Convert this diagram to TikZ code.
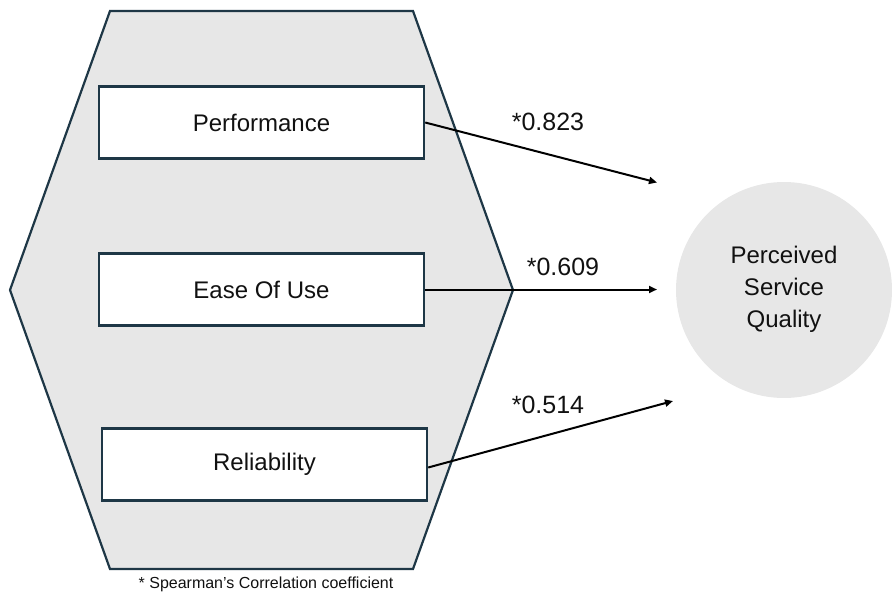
\documentclass[tikz,border=0pt]{standalone}
\usepackage{fontspec}
\setmainfont{Liberation Sans}
\usetikzlibrary{arrows.meta}
\definecolor{edgecol}{HTML}{1E3746}
\definecolor{fillgray}{HTML}{E7E7E7}
\definecolor{txt}{HTML}{111111}
\tikzset{
  factorbox/.style={draw=edgecol, line width=2.4pt, fill=white, minimum width=325pt, minimum height=72pt, inner sep=0pt, text=txt, font=\fontsize{24}{29}\selectfont},
  corrlabel/.style={text=txt, inner sep=0pt, font=\fontsize{25}{30}\selectfont},
  link/.style={draw=black, line width=2pt, -{Triangle[length=8pt,width=7pt]}},
}
\begin{document}
\begin{tikzpicture}[x=1pt,y=-1pt]
\useasboundingbox (0,0) rectangle (892,594);
% hexagon
\draw[edgecol, line width=2.2pt, fill=fillgray, line join=miter]
  (110,11) -- (413,11) -- (513,290) -- (413,569) -- (110,569) -- (10,290) -- cycle;
% circle
\node[circle, fill=fillgray, minimum size=216pt, inner sep=0pt] (psq) at (784,290) {};
\node[align=center, text=txt, font=\fontsize{24}{32}\selectfont, inner sep=0pt] (psqtext) at (784,289) {Perceived\\Service\\Quality};
% boxes
\node[factorbox] (perf) at (261.5,122.5) {Performance};
\node[factorbox] (ease) at (261.5,289.5) {Ease Of Use};
\node[factorbox] (rel) at (264.5,464.5) {Reliability};
% arrow ends
\coordinate (t1) at (657,182.5);
\coordinate (t2) at (657,289.5);
\coordinate (t3) at (673,401);
\draw[link] (perf.east) -- (t1);
\draw[link] (ease.east) -- (t2);
\draw[link] ([yshift=-3pt]rel.east) -- (t3);
% labels
\node[corrlabel] (l1) at (548,122) {*0.823};
\node[corrlabel] (l2) at (563,267) {*0.609};
\node[corrlabel] (l3) at (548,405) {*0.514};
% footnote
\node[text=txt, inner sep=0pt, font=\fontsize{16}{19}\selectfont] (note) at (266,584) {* Spearman's Correlation coefficient};
\end{tikzpicture}
\end{document}
